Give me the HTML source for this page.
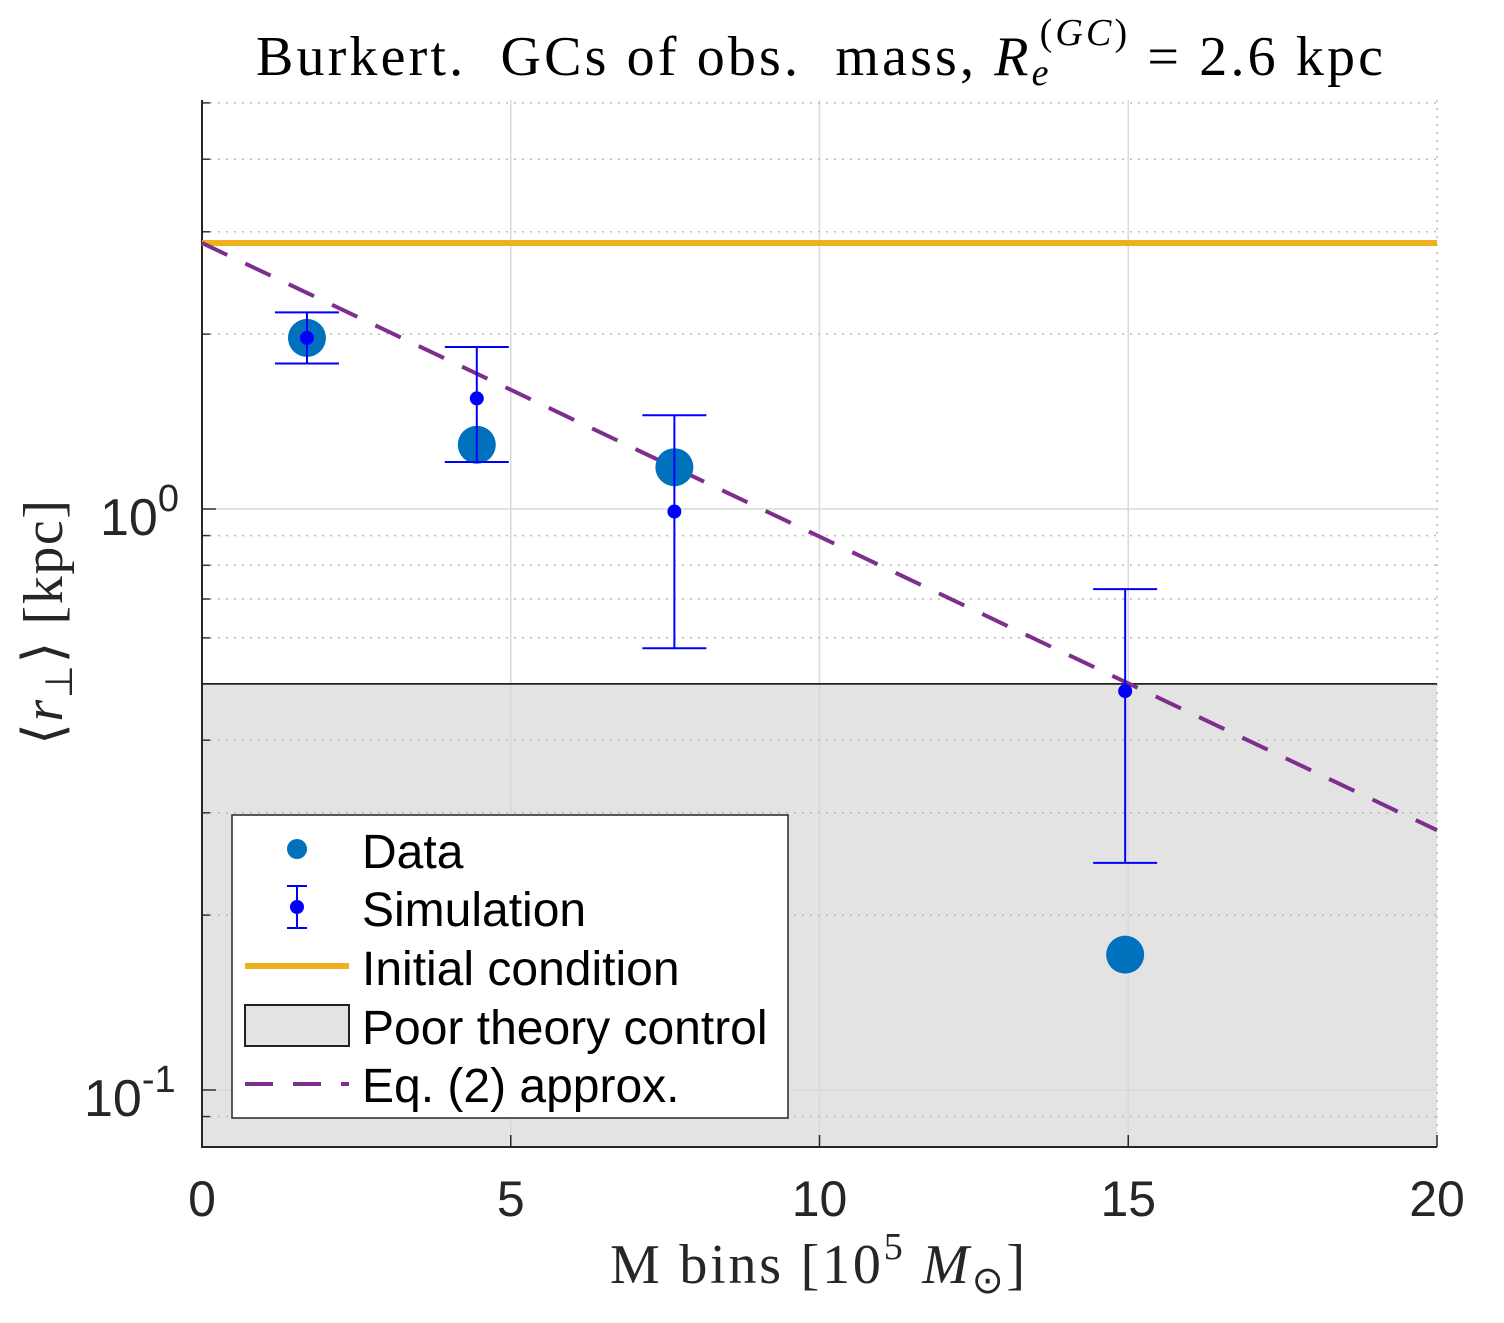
<!DOCTYPE html>
<html><head><meta charset="utf-8"><style>
body{margin:0;background:#fff;}
svg text{font-family:"Liberation Sans",sans-serif;}
.serif{font-family:"Liberation Serif",serif;}
</style></head><body>
<svg width="1504" height="1318" viewBox="0 0 1504 1318" xmlns="http://www.w3.org/2000/svg">
<g id="plot"></g>
</svg>
<script>
const xTicks=[0,5,10,15,20];
const yMajor=[1,0.1];
const yMinor=[5,4,3,2,0.9,0.8,0.7,0.6,0.4,0.3,0.2,0.09];
const dataX=[1.7,4.45,7.65,14.95];
const dataY=[1.97,1.29,1.18,0.171];
const simX=[1.7,4.45,7.65,14.95];
const simY=[1.97,1.55,0.99,0.486];
const simHi=[2.18,1.90,1.45,0.728];
const simLo=[1.78,1.205,0.576,0.246];
const initialCondition=[2.87];
const poorThreshold=[0.5];
const approxEnds=[2.87,0.28];
const X0=202,X1=1437,Y0=100,Y1=1147;
const sx=v=>X0+(X1-X0)*v/20;
const sy=v=>509-581*Math.log10(v);
const NS='http://www.w3.org/2000/svg';
const g=document.getElementById('plot');
function mk(tag,at,parent){const e=document.createElementNS(NS,tag);for(const k in at)e.setAttribute(k,at[k]);(parent||g).appendChild(e);return e;}
let e=mk('rect',{x:X0,y:sy(poorThreshold[0]),width:X1-X0,height:Y1-sy(poorThreshold[0]),fill:'#e3e3e3'});


xTicks.slice(1,4).forEach(t=>{e=mk('line',{x1:sx(t),x2:sx(t),y1:Y0,y2:Y1,stroke:'#d9d9d9','stroke-width':1.5});

});
e=mk('line',{x1:X1,x2:X1,y1:Y0,y2:Y1,stroke:'#bbb','stroke-width':1.5,'stroke-dasharray':'2 6'});


yMajor.forEach(t=>{e=mk('line',{x1:X0,x2:X1,y1:sy(t),y2:sy(t),stroke:'#d9d9d9','stroke-width':1.5});


mk('line',{x1:X0,x2:X0+14,y1:sy(t),y2:sy(t),stroke:'#333','stroke-width':1.5});});
yMinor.forEach(t=>{e=mk('line',{x1:X0,x2:X1,y1:sy(t),y2:sy(t),stroke:'#bbb','stroke-width':1.5,'stroke-dasharray':'2 6'});


mk('line',{x1:X0,x2:X0+8,y1:sy(t),y2:sy(t),stroke:'#333','stroke-width':1.5});});
e=mk('line',{x1:X0,x2:X1,y1:sy(poorThreshold[0]),y2:sy(poorThreshold[0]),stroke:'#222','stroke-width':1.8});


e=mk('path',{d:`M${X0} ${Y0}V${Y1}H${X1}`,fill:'none',stroke:'#262626','stroke-width':2});


xTicks.forEach(t=>{mk('line',{x1:sx(t),x2:sx(t),y1:Y1,y2:Y1-12,stroke:'#262626','stroke-width':1.5});
e=mk('text',{x:sx(t),y:1216,'font-size':50,'text-anchor':'middle',fill:'#262626'});e.textContent=t;

});
e=mk('text',{x:100,y:535,'font-size':52,fill:'#262626'});e.innerHTML='10<tspan dy="-24" font-size="38">0</tspan>';


e=mk('text',{x:84,y:1116,'font-size':52,fill:'#262626'});e.innerHTML='10<tspan dy="-24" font-size="38">-1</tspan>';


e=mk('line',{x1:X0,x2:X1,y1:sy(initialCondition[0]),y2:sy(initialCondition[0]),stroke:'#edb120','stroke-width':6});


e=mk('line',{x1:sx(0),x2:sx(20),y1:sy(approxEnds[0]),y2:sy(approxEnds[1]),stroke:'#7e2f8e','stroke-width':4,'stroke-dasharray':'28 20'});


dataX.forEach((x,i)=>{e=mk('circle',{cx:sx(x),cy:sy(dataY[i]),r:19,fill:'#0072bd'});

});
simX.forEach((x,i)=>{const cx=sx(x);
e=mk('path',{d:`M${cx} ${sy(simHi[i])}V${sy(simLo[i])}M${cx-32} ${sy(simHi[i])}h64M${cx-32} ${sy(simLo[i])}h64`,stroke:'#0000ff','stroke-width':2,fill:'none'});


e=mk('circle',{cx:cx,cy:sy(simY[i]),r:7,fill:'#0000ff'});

});
const L=mk('g',{});


mk('rect',{x:232,y:815,width:556,height:303,fill:'#fff',stroke:'#262626','stroke-width':1.5},L);
mk('circle',{cx:297,cy:849,r:10,fill:'#0072bd'},L);
mk('path',{d:'M297 886V928M287 886h20M287 928h20',stroke:'#0000ff','stroke-width':2,fill:'none'},L);
mk('circle',{cx:297,cy:907,r:7,fill:'#0000ff'},L);
mk('line',{x1:245,x2:349,y1:966,y2:966,stroke:'#edb120','stroke-width':6},L);
mk('rect',{x:245,y:1005,width:104,height:41,fill:'#e3e3e3',stroke:'#222','stroke-width':2},L);
mk('line',{x1:245,x2:349,y1:1084,y2:1084,stroke:'#7e2f8e','stroke-width':4,'stroke-dasharray':'28 20'},L);
[['Data',868],['Simulation',926],['Initial condition',985],['Poor theory control',1044],['Eq. (2) approx.',1102]].forEach(([t,y])=>{
e=mk('text',{x:362,y:y,'font-size':48,fill:'#000'},L);e.textContent=t;

});
e=mk('text',{x:256,y:75,'font-size':56,class:'serif',fill:'#000',textLength:1127,lengthAdjust:'spacing'});
e.innerHTML='Burkert.&#160; GCs of obs.&#160; mass, <tspan font-style="italic">R</tspan><tspan font-style="italic" font-size="38" dy="10">e</tspan><tspan font-size="38" dy="-40" dx="-12">(<tspan font-style="italic">GC</tspan>)</tspan><tspan dy="30"> = 2.6 kpc</tspan>';


e=mk('text',{x:610,y:1283,'font-size':56,class:'serif',fill:'#262626',textLength:415,lengthAdjust:'spacing'});
e.innerHTML='M bins [10<tspan font-size="38" dy="-24">5</tspan><tspan dy="24"> </tspan><tspan font-style="italic">M</tspan><tspan font-size="38" dy="10">⊙</tspan><tspan dy="-10">]</tspan>';


e=mk('text',{x:0,y:0,'font-size':56,class:'serif',fill:'#262626',transform:'translate(62,745) rotate(-90)',textLength:245,lengthAdjust:'spacing'});
e.innerHTML='⟨<tspan font-style="italic">r</tspan><tspan font-size="38" dy="10">⊥</tspan><tspan dy="-10">⟩ [kpc]</tspan>';


</script>
</body></html>
